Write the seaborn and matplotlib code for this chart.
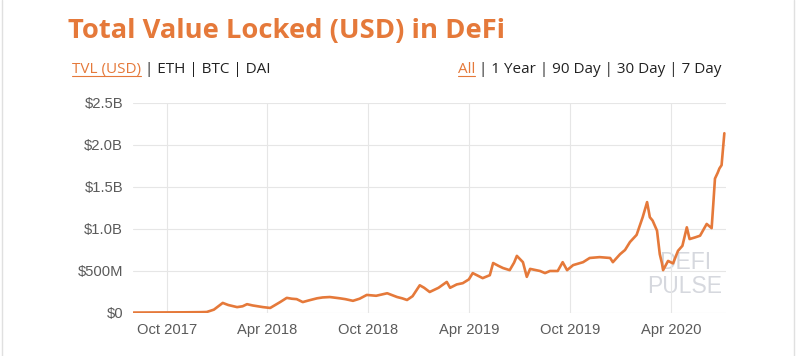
# TVL em DeFi - recriação com seaborn
import numpy as np
import pandas as pd
import matplotlib.pyplot as plt
import matplotlib.dates as mdates
import matplotlib.ticker as mticker
from matplotlib.lines import Line2D
import seaborn as sns

# dados (datas e valor em milhões de USD)
dates = [
    "2017-08-01", "2017-09-01", "2017-10-01", "2017-11-01", "2017-12-01", "2017-12-12",
    "2017-12-25", "2018-01-05", "2018-01-10", "2018-01-20", "2018-02-05", "2018-02-15",
    "2018-02-23", "2018-03-05", "2018-03-24", "2018-04-06", "2018-04-15", "2018-04-24",
    "2018-05-06", "2018-05-15", "2018-05-24", "2018-06-04", "2018-06-15", "2018-06-30",
    "2018-07-10", "2018-07-23", "2018-08-10", "2018-08-20", "2018-09-03", "2018-09-15",
    "2018-09-28", "2018-10-15", "2018-11-04", "2018-11-22", "2018-12-01", "2018-12-10",
    "2018-12-20", "2019-01-02", "2019-01-10", "2019-01-20", "2019-02-05", "2019-02-20",
    "2019-02-26", "2019-03-10", "2019-03-21", "2019-04-01", "2019-04-08", "2019-04-26",
    "2019-05-09", "2019-05-15", "2019-05-25", "2019-06-02", "2019-06-14", "2019-06-22",
    "2019-06-27", "2019-07-08", "2019-07-15", "2019-07-21", "2019-08-08", "2019-08-17",
    "2019-08-26", "2019-09-09", "2019-09-18", "2019-09-26", "2019-10-07", "2019-10-25",
    "2019-11-06", "2019-11-24", "2019-12-13", "2019-12-18", "2019-12-31", "2020-01-09",
    "2020-01-18", "2020-01-30", "2020-02-10", "2020-02-18", "2020-02-23", "2020-02-28",
    "2020-03-07", "2020-03-12", "2020-03-16", "2020-03-18", "2020-03-27", "2020-04-05",
    "2020-04-14", "2020-04-22", "2020-04-30", "2020-05-05", "2020-05-15", "2020-05-24",
    "2020-06-05", "2020-06-14", "2020-06-17", "2020-06-20", "2020-06-25", "2020-06-28",
    "2020-07-02", "2020-07-07",
]
tvl_musd = [
    5, 6, 7, 8, 10, 12,
    40, 95, 120, 95, 70, 80,
    105, 90, 70, 60, 95, 130,
    180, 170, 165, 130, 150, 175,
    185, 190, 175, 165, 145, 170,
    215, 205, 235, 190, 175, 155,
    200, 330, 300, 250, 300, 370,
    300, 340, 355, 400, 475, 415,
    450, 595, 560, 535, 510, 600,
    680, 605, 430, 525, 500, 475,
    500, 500, 605, 510, 570, 605,
    655, 665, 655, 605, 700, 750,
    845, 930, 1140, 1320, 1140, 1100,
    980, 700, 590, 510, 620, 590,
    740, 800, 1020, 880, 900, 920,
    1060, 1010, 1300, 1600, 1670, 1720,
    1760, 2140,
]

df = pd.DataFrame({"data": pd.to_datetime(dates), "tvl": np.array(tvl_musd) * 1e6})

laranja = "#E5793A"
cinza_txt = "#5a5a5a"

sns.set_style("whitegrid", {"grid.color": "#e6e6e6", "axes.edgecolor": "#e6e6e6"})
plt.rcParams["font.family"] = ["Liberation Sans", "DejaVu Sans"]

fig = plt.figure(figsize=(8, 3.56), dpi=100)
ax = fig.add_axes([0.166, 0.1208, 0.7415, 0.5899])

sns.lineplot(data=df, x="data", y="tvl", color=laranja, linewidth=1.9, ax=ax)

ax.set_ylim(0, 2.5e9)
ax.set_xlim(pd.Timestamp("2017-07-31"), pd.Timestamp("2020-07-10"))
ax.set_yticks([0, 0.5e9, 1.0e9, 1.5e9, 2.0e9, 2.5e9])


def fmt_usd(v, pos):
    if v == 0:
        return "$0"
    if v < 1e9:
        return "${:.0f}M".format(v / 1e6)
    return "${:.1f}B".format(v / 1e9)


ax.yaxis.set_major_formatter(mticker.FuncFormatter(fmt_usd))
ax.xaxis.set_major_locator(mdates.MonthLocator(bymonth=[4, 10]))
ax.xaxis.set_major_formatter(mdates.DateFormatter("%b %Y"))
ax.tick_params(axis="both", labelsize=10.6, colors=cinza_txt, length=0, pad=7)
ax.set_xlabel("")
ax.set_ylabel("")
for s in ax.spines.values():
    s.set_visible(False)

# marca d'água
ax.text(0.931, 0.07, "DEFI\nPULSE", transform=ax.transAxes, ha="center", va="bottom",
        multialignment="center", fontsize=16.5, color="#d6d8de", linespacing=1.05, zorder=0)

# título
fig.text(68 / 800, 1 - 38 / 356, "Total Value Locked (USD) in DeFi", fontsize=19.7,
         fontweight="bold", color=laranja, family=["Open Sans", "DejaVu Sans"], va="baseline")

# linhas de opções
fig.canvas.draw()
renderer = fig.canvas.get_renderer()


def linha_opcoes(x0, partes, y):
    x = x0
    for texto, ativo in partes:
        t = fig.text(x, y, texto, fontsize=11, color=laranja if ativo else "#222222",
                     family=["Open Sans", "DejaVu Sans"], va="baseline")
        bb = t.get_window_extent(renderer).transformed(fig.transFigure.inverted())
        if ativo:
            fig.add_artist(Line2D([bb.x0, bb.x1], [y - 0.009, y - 0.009], color=laranja, lw=0.8))
        x = bb.x1


linha_opcoes(72 / 800, [("TVL (USD)", True), (" | ETH | BTC | DAI", False)], 1 - 73 / 356)
linha_opcoes(458 / 800, [("All", True), (" | 1 Year | 90 Day | 30 Day | 7 Day", False)], 1 - 73 / 356)

# bordas do cartão
fig.add_artist(Line2D([0.003, 0.003], [0, 1], color="#e0e0e0", lw=1))
fig.add_artist(Line2D([0.992, 0.992], [0, 1], color="#e0e0e0", lw=1))

fig.savefig("out.png", dpi=100)
